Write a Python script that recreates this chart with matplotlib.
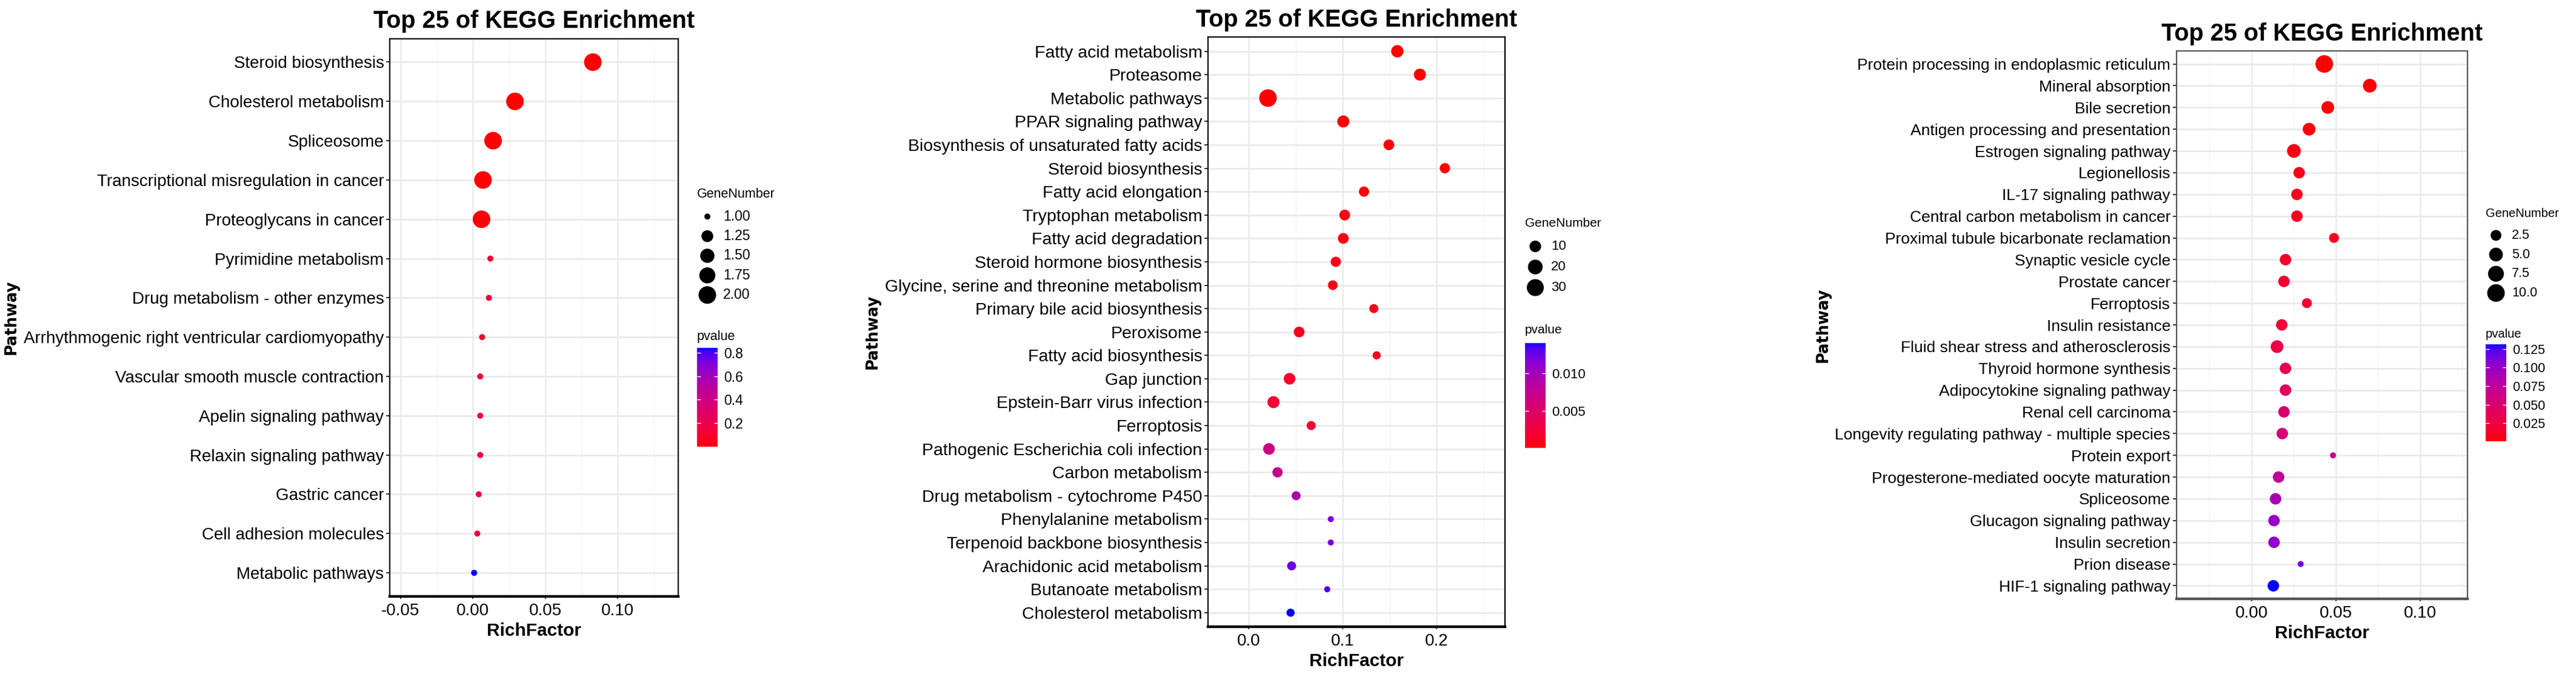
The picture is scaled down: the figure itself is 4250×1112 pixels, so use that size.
import numpy as np
import matplotlib
matplotlib.use("Agg")
import matplotlib.pyplot as plt
from matplotlib.colors import ListedColormap, Normalize
from matplotlib.cm import ScalarMappable

plt.rcParams['font.family'] = ['Liberation Sans', 'DejaVu Sans']

# ================================
# DATA
# ================================
terms1 = ["Steroid biosynthesis", "Cholesterol metabolism", "Spliceosome",
          "Transcriptional misregulation in cancer", "Proteoglycans in cancer",
          "Pyrimidine metabolism", "Drug metabolism - other enzymes",
          "Arrhythmogenic right ventricular cardiomyopathy",
          "Vascular smooth muscle contraction", "Apelin signaling pathway",
          "Relaxin signaling pathway", "Gastric cancer", "Cell adhesion molecules",
          "Metabolic pathways"]
rich1 = [0.0828, 0.0290, 0.0139, 0.0069, 0.0059, 0.0120, 0.0110, 0.0063,
         0.0050, 0.0050, 0.0050, 0.0040, 0.0030, 0.0008]
genes1 = [2, 2, 2, 2, 2, 1, 1, 1, 1, 1, 1, 1, 1, 1]
pval1 = [0.0004, 0.0012, 0.0035, 0.0100, 0.0110, 0.120, 0.125, 0.130,
         0.135, 0.135, 0.135, 0.140, 0.160, 0.840]

terms2 = ["Fatty acid metabolism", "Proteasome", "Metabolic pathways",
          "PPAR signaling pathway", "Biosynthesis of unsaturated fatty acids",
          "Steroid biosynthesis", "Fatty acid elongation", "Tryptophan metabolism",
          "Fatty acid degradation", "Steroid hormone biosynthesis",
          "Glycine, serine and threonine metabolism", "Primary bile acid biosynthesis",
          "Peroxisome", "Fatty acid biosynthesis", "Gap junction",
          "Epstein-Barr virus infection", "Ferroptosis",
          "Pathogenic Escherichia coli infection", "Carbon metabolism",
          "Drug metabolism - cytochrome P450", "Phenylalanine metabolism",
          "Terpenoid backbone biosynthesis", "Arachidonic acid metabolism",
          "Butanoate metabolism", "Cholesterol metabolism"]
rich2 = [0.158, 0.182, 0.0203, 0.1005, 0.149, 0.2086, 0.1225, 0.102, 0.1005,
         0.0925, 0.0893, 0.133, 0.0535, 0.136, 0.0433, 0.0262, 0.0663, 0.0214,
         0.0305, 0.0503, 0.0872, 0.0872, 0.0455, 0.0834, 0.0444]
genes2 = [12, 11, 33, 11, 8, 7, 7, 8, 8, 7, 6, 5, 8, 4, 10, 11, 5, 10, 7, 5,
          3, 3, 5, 3, 4]
pval2 = [0.00001, 0.00002, 0.00003, 0.0001, 0.0002, 0.0002, 0.0003, 0.0004,
         0.0005, 0.0006, 0.0007, 0.0008, 0.0010, 0.0011, 0.0014, 0.0020, 0.0022,
         0.0068, 0.0076, 0.0093, 0.0121, 0.0122, 0.0126, 0.0134, 0.0141]

terms3 = ["Protein processing in endoplasmic reticulum", "Mineral absorption",
          "Bile secretion", "Antigen processing and presentation",
          "Estrogen signaling pathway", "Legionellosis", "IL-17 signaling pathway",
          "Central carbon metabolism in cancer",
          "Proximal tubule bicarbonate reclamation", "Synaptic vesicle cycle",
          "Prostate cancer", "Ferroptosis", "Insulin resistance",
          "Fluid shear stress and atherosclerosis", "Thyroid hormone synthesis",
          "Adipocytokine signaling pathway", "Renal cell carcinoma",
          "Longevity regulating pathway - multiple species", "Protein export",
          "Progesterone-mediated oocyte maturation", "Spliceosome",
          "Glucagon signaling pathway", "Insulin secretion", "Prion disease",
          "HIF-1 signaling pathway"]
rich3 = [0.0432, 0.0702, 0.0453, 0.0342, 0.0252, 0.0283, 0.0270, 0.0270,
         0.0490, 0.0202, 0.0193, 0.0329, 0.0180, 0.0152, 0.0202, 0.0202,
         0.0193, 0.0183, 0.0484, 0.0161, 0.0143, 0.0134, 0.0134, 0.0292, 0.0130]
genes3 = [10, 5, 4, 4, 5, 3, 3, 3, 2, 3, 3, 2, 3, 4, 3, 3, 3, 3, 1, 3, 3, 3,
          3, 1, 3]
pval3 = [0.0005, 0.002, 0.003, 0.004, 0.006, 0.007, 0.009, 0.010, 0.012,
         0.015, 0.016, 0.018, 0.020, 0.028, 0.038, 0.042, 0.050, 0.055, 0.068,
         0.075, 0.090, 0.100, 0.102, 0.115, 0.131]

# ================================
# red -> blue gradient interpolated in Lab (like ggplot)
# ================================
M = np.array([[0.4124, 0.3576, 0.1805],
              [0.2126, 0.7152, 0.0722],
              [0.0193, 0.1192, 0.9505]])
WHITE = np.array([0.95047, 1.0, 1.08883])


def rgb_to_lab(c):
    c = np.asarray(c, float)
    lin = np.where(c <= 0.04045, c / 12.92, ((c + 0.055) / 1.055) ** 2.4)
    xyz = M @ lin / WHITE
    f = np.where(xyz > (6 / 29) ** 3, np.cbrt(xyz), xyz / (3 * (6 / 29) ** 2) + 4 / 29)
    return np.array([116 * f[1] - 16, 500 * (f[0] - f[1]), 200 * (f[1] - f[2])])


def lab_to_rgb(lab):
    L, a, b = lab.T
    fy = (L + 16) / 116
    f = np.stack([fy + a / 500, fy, fy - b / 200])
    xyz = np.where(f > 6 / 29, f ** 3, 3 * (6 / 29) ** 2 * (f - 4 / 29)) * WHITE[:, None]
    lin = np.clip((np.linalg.inv(M) @ xyz).T, 0, 1)
    return np.where(lin <= 0.0031308, 12.92 * lin, 1.055 * lin ** (1 / 2.4) - 0.055)


lo, hi = rgb_to_lab([1, 0, 0]), rgb_to_lab([0, 0, 1])
tt = np.linspace(0, 1, 256)[:, None]
cmap = ListedColormap(lab_to_rgb(lo + tt * (hi - lo)))


def dot_px(g, g_lo, g_hi):
    # dot diameter in pixels, area-like scale
    return 10 + 19 * np.sqrt((np.asarray(g, float) - g_lo) / (g_hi - g_lo))


# ================================
# FIGURE
# ================================
W, H = 4250, 1112
fig = plt.figure(figsize=(W / 100, H / 100), dpi=100)


def box(x0, y0, x1, y1):
    return [x0 / W, 1 - y1 / H, (x1 - x0) / W, (y1 - y0) / H]


def draw_panel(ax, terms, rich, genes, pval, xlim, xticks, xlabels, fs, frame):
    n = len(terms)
    y = np.arange(n)
    g_lo, g_hi = min(genes), max(genes)
    norm = Normalize(min(pval), max(pval))
    ax.set_xlim(*xlim)
    ax.set_ylim(n - 1 + 0.6, -0.6)
    ax.set_yticks(y, terms, fontsize=fs)
    ax.set_xticks(xticks, xlabels, fontsize=20)
    step = xticks[1] - xticks[0]
    minor = np.arange(xticks[0] - step / 2, xlim[1], step)
    ax.set_xticks(minor[(minor > xlim[0]) & (minor < xlim[1])], minor=True)
    ax.grid(axis='x', which='major', color='#EBEBEB', lw=1.8)
    ax.grid(axis='x', which='minor', color='#F3F3F3', lw=0.9)
    ax.grid(axis='y', which='major', color='#EBEBEB', lw=2.1)
    ax.set_axisbelow(True)
    ax.scatter(rich, y, s=(dot_px(genes, g_lo, g_hi) * 0.72) ** 2, c=pval,
               cmap=cmap, norm=norm, linewidths=0, zorder=3)
    ax.tick_params(axis='y', length=4.3, width=1.4, color='#333333', pad=2.5)
    ax.tick_params(axis='x', which='major', length=3, width=1.4, color='#333333', pad=5)
    ax.tick_params(which='minor', length=0)
    for side in ax.spines.values():
        side.set_color(frame)
        side.set_linewidth(1.6)
    ax.spines['bottom'].set_linewidth(3.2)
    ax.set_title("Top 25 of KEGG Enrichment", fontsize=28.5, fontweight='bold', pad=12.5)
    ax.set_xlabel("RichFactor", fontsize=21.5, fontweight='bold', labelpad=4)
    ax.set_ylabel("Pathway", fontsize=18.5, fontweight='bold',
                  family='DejaVu Sans', labelpad=5)
    return norm, g_lo, g_hi


def draw_legend(leg, x0, lay, norm, g_lo, g_hi, breaks, blabels, cticks, clabels, fs):
    leg.text(x0, lay['title_y'], "GeneNumber", fontsize=fs, va='center')
    ky = lay['key_y0'] + lay['key_dy'] * np.arange(len(breaks))
    leg.scatter(np.full(len(breaks), x0 + 17), ky,
                s=(dot_px(breaks, g_lo, g_hi) * 0.72) ** 2, c='black',
                linewidths=0, clip_on=False)
    for yy, lab in zip(ky, blabels):
        leg.text(x0 + 43, yy, lab, fontsize=fs + 1, va='center')
    leg.text(x0, lay['p_y'], "pvalue", fontsize=fs, va='center')
    cax = fig.add_axes(box(x0, lay['cb_top'], x0 + 34, lay['cb_bot']))
    cb = fig.colorbar(ScalarMappable(norm=norm, cmap=cmap), cax=cax, ticks=cticks)
    cb.set_ticklabels(clabels)
    cb.outline.set_visible(False)
    cax.tick_params(direction='in', length=4, width=1, color='white',
                    labelsize=fs + 1, pad=7, left=True, right=True,
                    labelleft=False, labelright=True)


ax1 = fig.add_axes(box(643, 63.6, 1119, 984))
ax2 = fig.add_axes(box(1993, 61.4, 2483, 1034))
ax3 = fig.add_axes(box(3590.5, 84, 4071, 988))

r1 = draw_panel(ax1, terms1, rich1, genes1, pval1, (-0.0575, 0.1418),
                [-0.05, 0.0, 0.05, 0.10], ["-0.05", "0.00", "0.05", "0.10"], 20, 'black')
r2 = draw_panel(ax2, terms2, rich2, genes2, pval2, (-0.0435, 0.2726),
                [0.0, 0.1, 0.2], ["0.0", "0.1", "0.2"], 20.5, 'black')
r3 = draw_panel(ax3, terms3, rich3, genes3, pval3, (-0.0446, 0.1282),
                [0.0, 0.05, 0.10], ["0.00", "0.05", "0.10"], 19, '#555555')

leg = fig.add_axes([0, 0, 1, 1], zorder=5)
leg.set_xlim(0, W)
leg.set_ylim(H, 0)
leg.axis('off')

draw_legend(leg, 1150, dict(title_y=321, key_y0=357.3, key_dy=32.35, p_y=555,
                            cb_top=574, cb_bot=736.7),
            *r1, [1.0, 1.25, 1.5, 1.75, 2.0], ["1.00", "1.25", "1.50", "1.75", "2.00"],
            [0.2, 0.4, 0.6, 0.8], ["0.2", "0.4", "0.6", "0.8"], 15.5)
draw_legend(leg, 2516, dict(title_y=368, key_y0=406.5, key_dy=34, p_y=545,
                            cb_top=566, cb_bot=738.7),
            *r2, [10, 20, 30], ["10", "20", "30"],
            [0.005, 0.010], ["0.005", "0.010"], 15)
draw_legend(leg, 4101, dict(title_y=353, key_y0=388.3, key_dy=31.7, p_y=551.7,
                            cb_top=568.3, cb_bot=728.3),
            *r3, [2.5, 5.0, 7.5, 10.0], ["2.5", "5.0", "7.5", "10.0"],
            [0.025, 0.05, 0.075, 0.10, 0.125], ["0.025", "0.050", "0.075", "0.100", "0.125"], 14.5)

fig.savefig("out.png", dpi=100)
